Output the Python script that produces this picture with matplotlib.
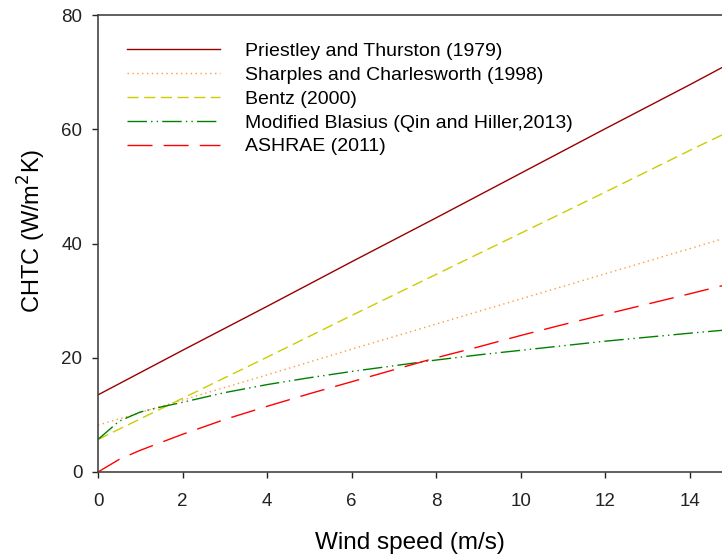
import matplotlib
matplotlib.use("Agg")
import matplotlib.pyplot as plt

plt.rcParams['font.family'] = ['Liberation Sans', 'DejaVu Sans']

# Data
x_lin = [0, 2, 4, 6, 8, 10, 12, 14, 14.76]
priestley = [13.5, 21.3, 29.0, 36.8, 44.5, 52.3, 60.1, 67.8, 70.8]
sharples = [8.2, 12.6, 17.0, 21.5, 25.9, 30.3, 34.7, 39.1, 40.8]
bentz = [5.7, 12.9, 20.1, 27.4, 34.6, 41.8, 49.0, 56.3, 59.0]

x_blas = [0, 0.25, 0.5, 1, 1.5, 2, 3, 4, 5, 6, 7, 8, 9, 10, 11, 12, 13, 14, 14.76]
blasius = [5.7, 7.3, 8.9, 10.5, 11.4, 12.2, 13.9, 15.3, 16.5, 17.6, 18.6, 19.6,
           20.5, 21.3, 22.1, 22.9, 23.6, 24.3, 24.8]

x_ash = [0, 0.5, 1, 2, 3, 4, 5, 6, 7, 8, 9, 10, 11, 12, 13, 14, 14.76]
ashrae = [0, 2.2, 3.8, 6.6, 9.2, 11.5, 13.7, 15.8, 17.9, 20.0, 21.9, 23.9,
          25.8, 27.6, 29.4, 31.2, 32.6]

labels = ["Priestley and Thurston (1979)",
          "Sharples and Charlesworth (1998)",
          "Bentz (2000)",
          "Modified Blasius (Qin and Hiller,2013)",
          "ASHRAE (2011)"]
x_ticks = [0, 2, 4, 6, 8, 10, 12, 14]
y_ticks = [0, 20, 40, 60, 80]

fig = plt.figure(figsize=(7.22, 5.56), dpi=100)
ax = fig.add_axes([98/722, 1 - 472/556, 1 - 98/722, (472 - 15)/556])

lw = 1.0
ax.plot(x_lin, priestley, color='#990000', lw=lw, ls='-', label=labels[0])
ax.plot(x_lin, sharples, color='#FF9933', lw=lw, ls=(0, (1, 2.5)), label=labels[1])
ax.plot(x_lin, bentz, color='#CCCC00', lw=lw, ls=(0, (8, 4)), label=labels[2])
ax.plot(x_blas, blasius, color='#008000', lw=lw, ls=(0, (14, 3, 1, 3, 1, 3)), label=labels[3])
ax.plot(x_ash, ashrae, color='#FF0000', lw=lw, ls=(0, (18, 8)), label=labels[4])

ax.set_xlim(0, 14.76)
ax.set_ylim(0, 80)
ax.set_xticks(x_ticks)
ax.set_yticks(y_ticks)
ax.tick_params(direction='out', length=4.3, width=1, labelsize=13.5, colors='#222222')
ax.tick_params(axis='x', pad=11)
ax.tick_params(axis='y', pad=7)
for s in ['left', 'bottom', 'top']:
    ax.spines[s].set_linewidth(1.2)
    ax.spines[s].set_color('#444444')
ax.spines['right'].set_visible(False)

ax.set_xlabel("Wind speed (m/s)", fontsize=17.5, labelpad=16)
ax.set_ylabel("CHTC (W/m$^{2}$K)", fontsize=17)
ax.yaxis.set_label_coords(-0.08, 0.527)

leg = ax.legend(loc='upper left', bbox_to_anchor=(0.046, 0.94), frameon=False,
                fontsize=14, handlelength=4.8, handletextpad=1.3, labelspacing=0.32,
                borderaxespad=0, borderpad=0)

fig.savefig("out.png", dpi=100)
